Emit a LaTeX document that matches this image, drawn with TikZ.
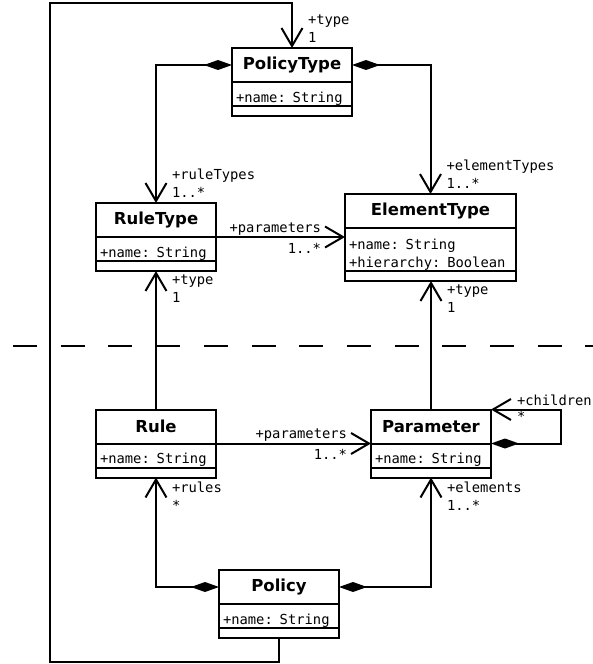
\documentclass[tikz,border=0pt]{standalone}
\usepackage{fontspec}
\usepackage{tikz}
\usetikzlibrary{shapes, arrows.meta, positioning}

\newfontfamily\clsfont{DejaVu Sans}
\newfontfamily\attrfont{DejaVu Sans Mono}

\tikzset{
    cls/.style={draw, line width=2pt, minimum width=120pt, minimum height=34pt,
        inner sep=0pt, outer sep=0pt, font=\clsfont\bfseries\fontsize{16.5pt}{18pt}\selectfont},
    attr/.style={draw, line width=2pt, text width=#1, align=left, inner xsep=4pt,
        inner ysep=3pt, text height=17pt, text depth=1pt, outer sep=0pt,
        font=\attrfont\fontsize{13.8pt}{18pt}\selectfont},
    attr/.default=112pt,
    ops/.style={draw, line width=2pt, minimum width=120pt, minimum height=10pt,
        inner sep=0pt, outer sep=0pt},
    lbl/.style={inner sep=1pt, align=left, font=\attrfont\fontsize{13.8pt}{18pt}\selectfont},
    assoc/.style={line width=2pt, -{Straight Barb[length=18pt,width=21pt]}},
    comp/.style={line width=2pt, {Diamond[length=28pt,width=10pt]}-{Straight Barb[length=18pt,width=21pt]}},
    sepline/.style={line width=1.5pt, dash pattern=on 24pt off 23.7pt}
}

\begin{document}
\begin{tikzpicture}[x=1pt, y=-1pt]
\useasboundingbox (0,0) rectangle (593,664);

% Policy type
\node[cls] (ptype) at (292,65) {PolicyType};
\node[attr, below=0pt of ptype] (ptype-attr) {+name: String};
\node[ops, below=0pt of ptype-attr] (ptype-ops) {};

% Rule type
\node[cls] (rtype) at (156,220) {RuleType};
\node[attr, below=0pt of rtype] (rtype-attr) {+name: String};
\node[ops, below=0pt of rtype-attr] (rtype-ops) {};

% Element type
\node[cls, minimum width=171pt] (etype) at (430.5,211) {ElementType};
\node[attr=163pt, below=0pt of etype,
    text height=18pt, text depth=19pt
] (etype-attr) {+name: String\\+hierarchy: Boolean};
\node[ops, minimum width=171pt, below=0pt of etype-attr] (etype-ops) {};

% Rule
\node[cls] (rule) at (156,426.5) {Rule};
\node[attr, below=0pt of rule] (rule-attr) {+name: String};
\node[ops, below=0pt of rule-attr] (rule-ops) {};

% Parameter
\node[cls] (param) at (431,426.5) {Parameter};
\node[attr, below=0pt of param] (param-attr) {+name: String};
\node[ops, below=0pt of param-attr] (param-ops) {};

% Policy
\node[cls] (policy) at (279,587) {Policy};
\node[attr, below=0pt of policy] (policy-attr) {+name: String};
\node[ops, below=0pt of policy-attr] (policy-ops) {};

% Loop and separator points
\coordinate (loopbl) at (50,662);
\coordinate (looptl) at (50,3);
\coordinate (sepL) at (13,346);
\coordinate (sepR) at (593,346);

% Arrows
\draw[comp] (ptype.west) -| (rtype.north)
    node[lbl, anchor=south west, xshift=14pt, yshift=4pt]{+ruleTypes\\1..*};
\draw[comp] (ptype.east) -| (etype.north)
    node[lbl, anchor=south west, xshift=14pt, yshift=4pt]{+elementTypes\\1..*};
\draw[assoc] (rtype.south east) -- (rtype.south east -| etype.west)
    node[lbl, anchor=south east, xshift=-22pt]{+parameters}
    node[lbl, anchor=north east, xshift=-22pt, yshift=-4pt]{1..*};
\draw[assoc] (rule.north) -- (rtype-ops.south)
    node[lbl, anchor=north west, xshift=14pt, yshift=-2pt]{+type\\1};
\draw[assoc] (param.north) -- (param.north |- etype-ops.south)
    node[lbl, anchor=north west, xshift=14pt, yshift=-2pt]{+type\\1};
\draw[assoc] (rule.south east) -- (param.south west)
    node[lbl, anchor=south east, xshift=-22pt]{+parameters}
    node[lbl, anchor=north east, xshift=-22pt, yshift=-4pt]{1..*};
\draw[comp] (param.south east) -- ++(70,0) |- (param.north east)
    node[lbl, anchor=south west, xshift=24pt, yshift=2pt]{+children}
    node[lbl, anchor=north west, xshift=24pt]{*};
\draw[comp] (policy.west) -| (rule-ops.south)
    node[lbl, anchor=north west, xshift=14pt, yshift=-2pt]{+rules\\*};
\draw[comp] (policy.east) -| (param-ops.south)
    node[lbl, anchor=north west, xshift=14pt, yshift=-2pt]{+elements\\1..*};
\draw[assoc] (policy-ops.south) |- (loopbl) -- (looptl) -| (ptype.north)
    node[lbl, anchor=south west, xshift=14pt, yshift=4pt]{+type\\1};

% Separator
\draw[sepline] (sepL) -- (sepR);
\end{tikzpicture}
\end{document}
